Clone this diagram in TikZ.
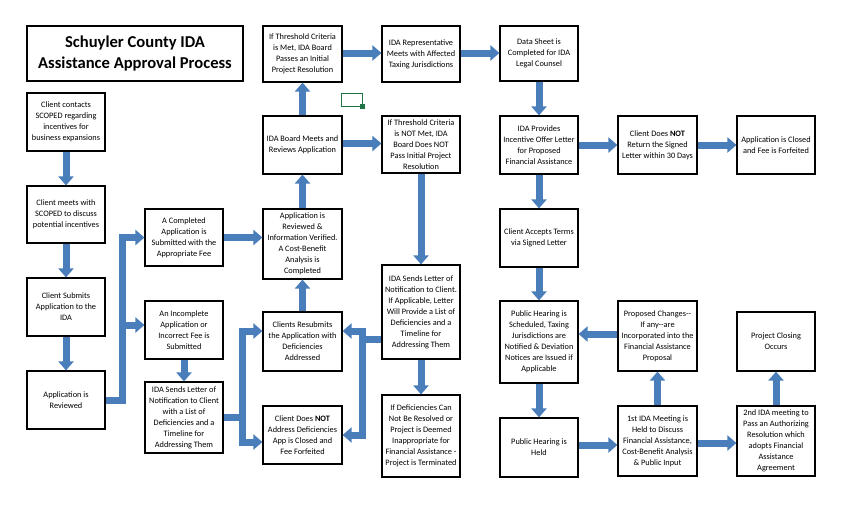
\documentclass[tikz,border=0pt]{standalone}
\usepackage{fontspec}
\setmainfont{Carlito}
\usetikzlibrary{arrows.meta}
\definecolor{flowblue}{RGB}{74,126,187}
\definecolor{selgreen}{RGB}{33,115,70}
\begin{document}
\begin{tikzpicture}[x=1pt,y=-1pt,
 box/.style={draw=black, line width=1.2pt, fill=white, align=center, inner sep=0.5pt,
   font=\fontsize{8.3}{11}\selectfont, minimum width=78pt},
 flow/.style={draw=flowblue, line width=7pt, line join=miter, -{Triangle[width=15pt,length=9pt]}}]
\useasboundingbox (0,0) rectangle (850,507);
\fill[white] (0,0) rectangle (850,507);

\node[box, minimum width=216pt, minimum height=55pt, font=\fontsize{16.6}{21}\selectfont\bfseries] (title) at (135,53.5) {Schuyler County IDA\\Assistance Approval Process};

% column 1
\node[box, minimum height=58pt] (b1) at (66,122) {Client contacts\\SCOPED regarding\\incentives for\\business expansions};
\node[box, minimum height=57pt] (b2) at (66,214.5) {Client meets with\\SCOPED to discuss\\potential incentives};
\node[box, minimum height=58pt] (b3) at (66,307) {Client Submits\\Application to the\\IDA};
\node[box, minimum height=58pt] (b4) at (66,400) {Application is\\Reviewed};

% column 2
\node[box, minimum height=57pt] (c1) at (184,237.5) {A Completed\\Application is\\Submitted with the\\Appropriate Fee};
\node[box, minimum height=58pt] (c2) at (184,330) {An Incomplete\\Application or\\Incorrect Fee is\\Submitted};
\node[box, minimum height=71pt] (c3) at (184,417.5) {IDA Sends Letter of\\Notification to Client\\with a List of\\Deficiencies and a\\Timeline for\\Addressing Them};

% column 3
\node[box, minimum width=79pt, minimum height=56pt] (d1) at (302.5,54) {If Threshold Criteria\\is Met, IDA Board\\Passes an Initial\\Project Resolution};
\node[box, minimum width=79pt, minimum height=58pt] (d2) at (302.5,145) {IDA Board Meets and\\Reviews Application};
\node[box, minimum width=79pt, minimum height=70pt] (d3) at (302.5,244) {Application is\\Reviewed \&\\Information Verified.\\A Cost-Benefit\\Analysis is\\Completed};
\node[box, minimum width=79pt, minimum height=59pt] (d4) at (302.5,341.5) {Clients Resubmits\\the Application with\\Deficiencies\\Addressed};
\node[box, minimum width=79pt, minimum height=58pt] (d5) at (302.5,435) {Client Does \textbf{NOT}\\Address Deficiencies\\App is Closed and\\Fee Forfeited};

% column 4
\node[box, minimum height=56pt] (e1) at (421,54) {IDA Representative\\Meets with Affected\\Taxing Jurisdictions};
\node[box, minimum height=57pt] (e2) at (421,144.5) {If Threshold Criteria\\is NOT Met, IDA\\Board Does NOT\\Pass Initial Project\\Resolution};
\node[box, minimum height=94pt] (e3) at (421,312) {IDA Sends Letter of\\Notification to Client.\\If Applicable, Letter\\Will Provide a List of\\Deficiencies and a\\Timeline for\\Addressing Them};
\node[box, minimum height=82pt] (e4) at (421,436) {If Deficiencies Can\\Not Be Resolved or\\Project is Deemed\\Inappropriate for\\Financial Assistance -\\Project is Terminated};

% column 5
\node[box, minimum height=55pt] (f1) at (539,53.5) {Data Sheet is\\Completed for IDA\\Legal Counsel};
\node[box, minimum height=58pt] (f2) at (539,145) {IDA Provides\\Incentive Offer Letter\\for Proposed\\Financial Assistance};
\node[box, minimum height=58pt] (f3) at (539,238) {Client Accepts Terms\\via Signed Letter};
\node[box, minimum height=82pt] (f4) at (539,342) {Public Hearing is\\Scheduled, Taxing\\Jurisdictions are\\Notified \& Deviation\\Notices are Issued if\\Applicable};
\node[box, minimum height=59pt] (f5) at (539,447.5) {Public Hearing is\\Held};

% column 6
\node[box, minimum width=79pt, minimum height=58pt] (g1) at (657.5,145) {Client Does \textbf{NOT}\\Return the Signed\\Letter within 30 Days};
\node[box, minimum width=79pt, minimum height=70pt] (g2) at (657.5,336) {Proposed Changes-{}-\\If any-{}-are\\Incorporated into the\\Financial Assistance\\Proposal};
\node[box, minimum width=79pt, minimum height=70pt] (g3) at (657.5,441) {1st IDA Meeting is\\Held to Discuss\\Financial Assistance,\\Cost-Benefit Analysis\\\& Public Input};

% column 7
\node[box, minimum height=58pt] (h1) at (776,145) {Application is Closed\\and Fee is Forfeited};
\node[box, minimum height=59pt] (h2) at (776,341.5) {Project Closing\\Occurs};
\node[box, minimum height=70pt] (h3) at (776,441) {2nd IDA meeting to\\Pass an Authorizing\\Resolution which\\adopts Financial\\Assistance\\Agreement};

% selection artifact
\draw[selgreen, line width=1pt] (341,93) rectangle (362,106);
\fill[selgreen] (359.5,103.5) rectangle (364.5,108.5);

% connectors
\draw[flow] (b1) -- (b2);
\draw[flow] (b2) -- (b3);
\draw[flow] (b3) -- (b4);
\coordinate (j1) at (122,400);
\draw[flow] (b4.east) -- (j1) |- (c1.west);
\coordinate (c2in) at ([yshift=5pt]c2.west);
\draw[flow] (j1 |- c2in) -- (c2in);
\draw[flow] (c1.east) -- (c1.east -| d3.west);
\draw[flow] (c2) -- (c3);
\coordinate (j2) at (242,417.5);
\draw[flow] (c3.east) -- (j2) |- ([yshift=10.5pt]d4.west);
\draw[flow] (j2) |- ([yshift=-7pt]d5.west);
\draw[flow] (d4) -- (d3);
\draw[flow] (d3) -- (d2);
\draw[flow] (d2) -- (d1);
\draw[flow] ([yshift=1.5pt]d2.east) -- ([yshift=1.5pt]d2.east -| e2.west);
\draw[flow] ([yshift=1pt]d1.east) -- ([yshift=1pt]d1.east -| e1.west);
\draw[flow] ([yshift=1pt]e1.east) -- ([yshift=1pt]e1.east -| f1.west);
\draw[flow] (e2) -- (e3);
\draw[flow] (e3) -- (e4);
\coordinate (j3) at (362,339);
\draw[flow] (j3 -| e3.west) -- (j3) |- ([yshift=10.5pt]d4.east);
\draw[flow] (j3) |- (d5.east);
\draw[flow] (f1) -- (f2);
\draw[flow] (f2) -- (f3);
\draw[flow] (f3) -- (f4);
\draw[flow] (f4) -- (f5);
\draw[flow] (f2.east) -- (f2.east -| g1.west);
\draw[flow] (g1) -- (h1);
\draw[flow] ([yshift=2pt]g2.west) -- ([yshift=2pt]g2.west -| f4.east);
\draw[flow] ([yshift=2.5pt]f5.east) -- ([yshift=2.5pt]f5.east -| g3.west);
\draw[flow] (g3) -- (g2);
\draw[flow] ([yshift=-2pt]g3.east) -- ([yshift=-2pt]g3.east -| h3.west);
\draw[flow] (h3) -- (h2);
\end{tikzpicture}
\end{document}
